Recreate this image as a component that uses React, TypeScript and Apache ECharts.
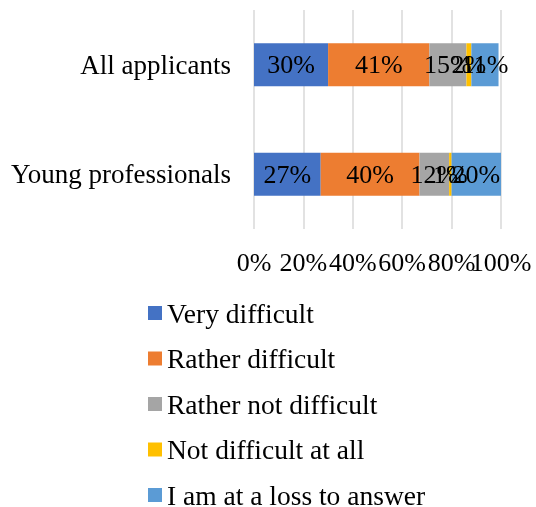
import React, { useEffect, useRef } from "react";
import * as echarts from "echarts";

const categories = ["All applicants", "Young professionals"];
const seriesNames = [
  "Very difficult",
  "Rather difficult",
  "Rather not difficult",
  "Not difficult at all",
  "I am at a loss to answer",
];
const veryDifficult = [30, 27];
const ratherDifficult = [41, 40];
const ratherNotDifficult = [15, 12];
const notDifficultAtAll = [2, 1];
const atALoss = [11, 20];
const colors = ["#4472C4", "#ED7D31", "#A5A5A5", "#FFC000", "#5B9BD5"];
const axisMax = 100;

const FONT = '"Liberation Serif", "Times New Roman", serif';

export default function App() {
  const ref = useRef<HTMLDivElement>(null);
  useEffect(() => {
    if (!ref.current) return;
    const chart = echarts.init(ref.current, null, { renderer: "svg" });
    const values = [veryDifficult, ratherDifficult, ratherNotDifficult, notDifficultAtAll, atALoss];
    const labelBase = {
      color: "#000",
      fontSize: 26,
      fontFamily: FONT,
      margin: 20,
      hideOverlap: false,
      showMinLabel: true,
      showMaxLabel: true,
    };
    chart.setOption({
      animation: false,
      textStyle: { fontFamily: FONT },
      grid: { left: 254, right: 35, top: 10, bottom: 278, containLabel: false },
      xAxis: [
        {
          type: "value",
          min: 0,
          max: axisMax,
          interval: 20,
          position: "bottom",
          axisLine: { show: false },
          axisTick: { show: false },
          splitLine: { show: true, lineStyle: { color: "#D9D9D9", width: 1.5 } },
          axisLabel: {
            ...labelBase,
            formatter: (v: number) => (v === axisMax ? "" : v + "%"),
          },
        },
        {
          type: "value",
          min: 0,
          max: axisMax,
          interval: 20,
          position: "bottom",
          offset: 0,
          axisLine: { show: false },
          axisTick: { show: false },
          splitLine: { show: false },
          axisLabel: {
            ...labelBase,
            formatter: (v: number) => (v === axisMax ? v + "%" : ""),
          },
        },
      ],
      yAxis: {
        type: "category",
        data: categories,
        inverse: true,
        axisLine: { show: false },
        axisTick: { show: false },
        axisLabel: { color: "#000", fontSize: 27, fontFamily: FONT, margin: 23 },
      },
      legend: {
        orient: "vertical",
        left: 148,
        top: 299,
        padding: 0,
        height: 400,
        itemWidth: 14,
        itemHeight: 14,
        itemGap: 17.5,
        icon: "rect",
        textStyle: { color: "#000", fontSize: 27.5, fontFamily: FONT },
        data: seriesNames,
      },
      series: seriesNames.map((name, i) => ({
        name,
        type: "bar",
        stack: "total",
        barWidth: 43,
        data: values[i],
        itemStyle: { color: colors[i] },
        label: {
          show: true,
          position: "inside",
          formatter: "{c}%",
          color: "#000",
          fontSize: 26,
          fontFamily: FONT,
        },
      })),
    });
    return () => chart.dispose();
  }, []);
  return (
    <div
      ref={ref}
      style={{ position: "fixed", left: 0, top: 0, width: 536, height: 507 }}
    />
  );
}
